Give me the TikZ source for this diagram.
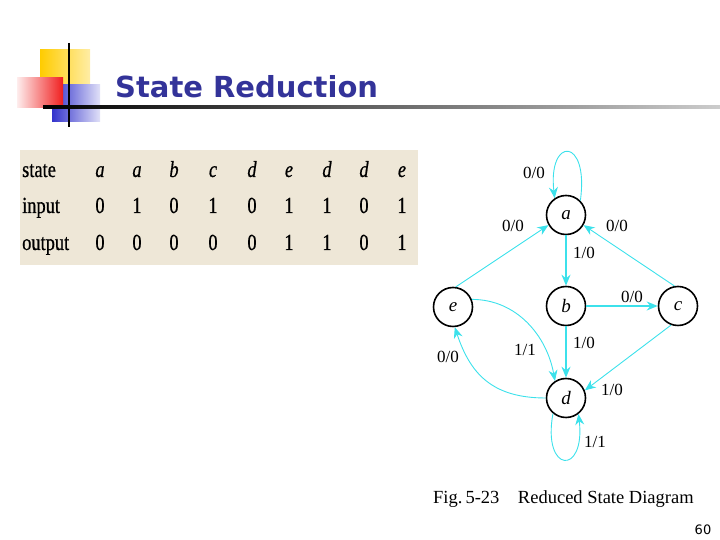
\documentclass[tikz,border=0pt]{standalone}
\usepackage{fontspec}
\setmainfont{Liberation Serif}
\newfontfamily\titlefont{DejaVu Sans}
\newfontfamily\tabfont[FakeStretch=0.8, FakeBold=0.6]{Liberation Serif}
\usetikzlibrary{
    arrows.meta,        % frecce moderne
    positioning
}

\definecolor{titolo}{RGB}{51,51,153}
\definecolor{ciano}{RGB}{60,225,235}
\definecolor{carta}{RGB}{238,231,215}
\definecolor{giallo}{RGB}{255,204,0}
\definecolor{rosso}{RGB}{240,30,30}
\definecolor{blu}{RGB}{51,51,204}

\tikzset{
    stato/.style={circle, draw, line width=1.6pt, minimum size=39pt, inner sep=0pt,
        font=\fontsize{19}{19}\selectfont\itshape},
    transizione/.style={ciano, line width=0.9pt, -{Stealth[length=11pt, width=9pt]}},
    etichetta/.style={inner sep=0pt, font=\fontsize{17}{17}\selectfont},
    cella/.style={anchor=base, inner sep=0pt, font=\tabfont\fontsize{23}{23}\selectfont}
}

\begin{document}
\begin{tikzpicture}[x=1pt, y=1pt]

        \useasboundingbox (0,0) rectangle (720,540);

        % Decorazione del titolo
        \shade[left color=giallo, right color=giallo!35] (40,490) rectangle (90,442);
        \shade[left color=blu, right color=blu!15] (52,455) rectangle (100,418);
        \shade[left color=rosso!8, right color=rosso] (17,462) rectangle (63,432);
        \draw[line width=2pt] (69,497) -- (69,413);
        \shade[left color=black, right color=black!20] (43,431.5) rectangle (720,434.5);

        % Titolo
        \node[anchor=base west, inner sep=0pt, titolo,
              font=\titlefont\fontsize{29}{29}\selectfont\bfseries] (tit) at (115,442) {State Reduction};

        % Tabella (sfondo della scansione)
        \fill[carta] (20,275) rectangle (418,390);
        \node[cella, anchor=base west] (rs) at (22,363) {state};
        \node[cella, anchor=base west] (ri) at (22,327) {input};
        \node[cella, anchor=base west] (ro) at (22,290) {output};
        \foreach \x/\s/\i/\o [count=\k] in {100/a/0/0, 137/a/1/0, 174/b/0/0, 213/c/1/0,
            252/d/0/0, 289/e/1/1, 327/d/1/1, 364/d/0/0, 402/e/1/1} {
            \node[cella] (s\k) at (\x,363) {\itshape\s};
            \node[cella] (i\k) at (\x,327) {\i};
            \node[cella] (o\k) at (\x,290) {\o};
        }

        % Stati
        \node[stato] (a) at (566,325) {a};
        \node[stato] (b) at (566,234) {b};
        \node[stato] (c) at (678,234) {c};
        \node[stato] (e) at (453,233) {e};
        \node[stato] (d) at (566,142) {d};

        % Transizioni
        \draw[transizione] (a.45) .. controls +(9,64) and +(-7,62) .. (a.124);
        \draw[transizione] (e.82) -- (a.-150);
        \draw[transizione] (c.100) -- (a.-30);
        \draw[transizione, line width=1.3pt] (a) -- (b);
        \draw[transizione, line width=1.3pt] (b) -- (c);
        \draw[transizione, line width=1.3pt] (b) -- (d);
        \draw[transizione] (c.-110) -- (d.22);
        \draw[transizione] (e.22) .. controls +(45,0) and +(-8,45) .. (d.123);
        \draw[transizione] (d.180) .. controls +(-55,0) and +(15,-45) .. (e.-85);
        \draw[transizione] (d.-130) .. controls +(-11,-60) and +(7,-62) .. (d.-52);

        % Etichette
        \node[etichetta] (l1) at (534,367) {0/0};
        \node[etichetta] (l2) at (513,314) {0/0};
        \node[etichetta] (l3) at (617,314) {0/0};
        \node[etichetta] (l4) at (584,287) {1/0};
        \node[etichetta] (l5) at (632,243) {0/0};
        \node[etichetta] (l6) at (525,190) {1/1};
        \node[etichetta] (l7) at (584,197) {1/0};
        \node[etichetta] (l8) at (448,183) {0/0};
        \node[etichetta] (l9) at (612,150) {1/0};
        \node[etichetta] (l10) at (595,98) {1/1};

        % Didascalia
        \node[anchor=base west, inner sep=0pt, font=\fontsize{18.5}{18.5}\selectfont] (fig) at (433,36)
            {Fig.\,5-23\quad Reduced State Diagram};

        % Numero di pagina
        \node[inner sep=0pt, font=\titlefont\fontsize{13}{13}\selectfont] (num) at (703,10) {60};

    \end{tikzpicture}
\end{document}
